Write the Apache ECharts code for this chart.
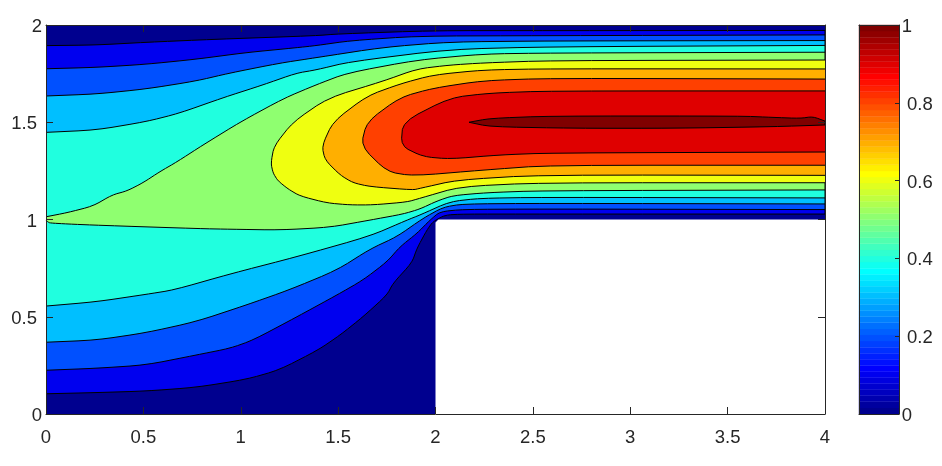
<!DOCTYPE html>
<html>
<head>
<meta charset="utf-8">
<script src="https://cdn.jsdelivr.net/npm/echarts@6/dist/echarts.min.js"></script>
<style>html,body{margin:0;padding:0;background:#fff}#c{width:942px;height:466px}</style>
</head>
<body>
<div id="c"></div>
<script>
// Domain of the field: channel with a backward step cut out
var domain = [[0,0],[2,0],[2,0.985],[2.015,1],[4,1],[4,2],[0,2]];

// Contour rings, [x, y] in data units
var contour01 = [[0,1.894],[0.257,1.897],[0.513,1.911],[0.858,1.926],[1.386,1.945],[1.499,1.954],[1.987,1.971],[2.588,1.971],[4,1.972],
  [4,1.028],[2.537,1.028],[2.141,1.028],[2.049,1.023],[1.987,0.989],[1.956,0.946],[1.905,0.852],[1.879,0.778],[1.782,0.672],[1.751,0.612],[1.628,0.500],[1.510,0.406],[1.397,0.329],[1.196,0.226],[1.027,0.178],[0.770,0.137],[0.513,0.118],[0.257,0.110],[0,0.104]];
var contour02 = [[0,1.775],[0.257,1.782],[0.513,1.798],[0.770,1.824],[1.027,1.858],[1.284,1.883],[1.386,1.894],[1.561,1.919],[1.905,1.943],[2.537,1.945],[4,1.949],
  [4,1.051],[2.537,1.054],[2.141,1.052],[2.023,1.040],[1.972,0.997],[1.905,0.929],[1.818,0.860],[1.751,0.783],[1.628,0.689],[1.494,0.612],[1.289,0.500],[1.063,0.380],[0.945,0.338],[0.770,0.303],[0.513,0.252],[0.257,0.235],[0,0.225]];
var contour03 = [[0,1.635],[0.257,1.645],[0.513,1.671],[0.770,1.712],[0.940,1.752],[1.196,1.803],[1.386,1.832],[1.730,1.885],[2.074,1.913],[2.588,1.918],[4,1.920],
  [4,1.080],[2.537,1.083],[2.141,1.080],[2.039,1.063],[1.936,1.006],[1.802,0.912],[1.664,0.848],[1.494,0.740],[1.248,0.638],[1.027,0.560],[0.770,0.475],[0.513,0.418],[0.257,0.380],[0,0.369]];
var contour04 = [[0,1.448],[0.257,1.460],[0.513,1.503],[0.683,1.546],[0.909,1.626],[1.114,1.692],[1.284,1.752],[1.386,1.769],[1.561,1.811],[2.074,1.875],[2.588,1.888],[4,1.895],
  [4,1.111],[2.537,1.114],[2.228,1.109],[2.074,1.092],[1.920,1.023],[1.854,0.997],[1.664,0.915],[1.289,0.809],[0.945,0.720],[0.657,0.638],[0.513,0.615],[0.257,0.577],[0,0.555]];
var contour05 = [[0,1.014],[0.108,1.035],[0.241,1.069],[0.339,1.126],[0.416,1.147],[0.498,1.189],[0.585,1.246],[0.673,1.297],[0.806,1.383],[1.001,1.503],[1.222,1.623],[1.386,1.692],[1.546,1.753],[1.905,1.820],[2.244,1.851],[2.588,1.856],[4,1.860],
  [4,1.152],[2.537,1.148],[2.264,1.138],[2.090,1.123],[2.008,1.095],[1.920,1.054],[1.833,1.028],[1.664,0.997],[1.458,0.960],[1.202,0.946],[0.945,0.950],[0.791,0.953],[0.277,0.970],[0.108,0.977],[0.021,0.982],[0.010,0.987],[0,0.997]];
var contour06 = [[4,1.820],[2.588,1.817],[2.244,1.805],[2.074,1.794],[1.905,1.774],[1.730,1.711],[1.448,1.625],[1.268,1.501],[1.171,1.378],[1.155,1.290],[1.166,1.239],[1.191,1.199],[1.243,1.157],[1.304,1.121],[1.443,1.085],[1.561,1.075],[1.679,1.075],[1.854,1.090],[1.920,1.109],[2.126,1.169],[2.537,1.189],[4,1.189]];
var contour07 = [[4,1.774],[2.588,1.775],[2.244,1.769],[1.987,1.743],[1.818,1.697],[1.648,1.635],[1.474,1.503],[1.417,1.378],[1.433,1.306],[1.510,1.229],[1.576,1.189],[1.664,1.169],[1.884,1.152],[1.920,1.160],[2.110,1.203],[2.537,1.229],[4,1.227]];
var contour08 = [[4,1.722],[2.588,1.726],[2.244,1.714],[1.987,1.675],[1.818,1.628],[1.648,1.503],[1.617,1.378],[1.751,1.246],[1.884,1.224],[2.244,1.254],[2.588,1.279],[4,1.279]];
var contour09 = [[4,1.661],[2.588,1.661],[2.280,1.650],[2.074,1.626],[1.833,1.503],[1.823,1.378],[1.936,1.323],[2.074,1.311],[2.331,1.332],[2.588,1.342],[4,1.347]];
var contour10 = [[2.172,1.500],[2.280,1.520],[2.588,1.532],[3.564,1.532],[3.733,1.525],[3.872,1.520],[3.938,1.529],[4,1.506],[4,1.486],[3.733,1.477],[3.220,1.469],[2.706,1.469],[2.280,1.477],[2.172,1.500]];

var bandLevels = [0,0.1,0.2,0.3,0.4,0.5,0.6,0.7,0.8,0.9,1];
var bandColors = ['#00008f','#0000ef','#0050ff','#00bfff','#20ffdf','#8fff70','#efff10','#ffaf00','#ff4000','#df0000','#800000'];
var rings = [domain,contour01,contour02,contour03,contour04,contour05,contour06,contour07,contour08,contour09,contour10];

// Colorbar palette (64 steps)
var jet64 = ['#00008f','#00009f','#0000af','#0000bf','#0000cf','#0000df','#0000ef','#0000ff',
 '#0010ff','#0020ff','#0030ff','#0040ff','#0050ff','#0060ff','#0070ff','#0080ff',
 '#008fff','#009fff','#00afff','#00bfff','#00cfff','#00dfff','#00efff','#00ffff',
 '#10ffef','#20ffdf','#30ffcf','#40ffbf','#50ffaf','#60ff9f','#70ff8f','#80ff80',
 '#8fff70','#9fff60','#afff50','#bfff40','#cfff30','#dfff20','#efff10','#ffff00',
 '#ffef00','#ffdf00','#ffcf00','#ffbf00','#ffaf00','#ff9f00','#ff8f00','#ff8000',
 '#ff7000','#ff6000','#ff5000','#ff4000','#ff3000','#ff2000','#ff1000','#ff0000',
 '#ef0000','#df0000','#cf0000','#bf0000','#af0000','#9f0000','#8f0000','#800000'];

var ink = '#262626', fontSize = 18.5, family = '"Liberation Sans", Arial, sans-serif';

// Rounds the corners of a contour where it is drawn; points on the plot's side edges stay put
function soften(ring, q) {
  var out = [];
  ring.forEach(function (p, i) {
    var prev = ring[i - 1], next = ring[i + 1];
    if (!prev || !next || p[0] === 0 || p[0] === 4) { out.push(p); return; }
    out.push([p[0] + (prev[0] - p[0]) * q, p[1] + (prev[1] - p[1]) * q]);
    out.push([p[0] + (next[0] - p[0]) * q, p[1] + (next[1] - p[1]) * q]);
  });
  return out;
}

function axis(gridIndex, position, min, max, interval, opts) {
  opts = opts || {};
  var label = {
    show: !!opts.label, margin: opts.margin, color: ink, fontSize: fontSize, fontFamily: family,
    showMinLabel: true, showMaxLabel: true, hideOverlap: false, alignMinLabel: 'center', alignMaxLabel: 'center',
    formatter: function (v) { return String(+v.toFixed(2)); }
  };
  if (opts.nudge) { label.verticalAlign = 'top'; label.lineHeight = opts.nudge * 2; }
  return {
    type: 'value', gridIndex: gridIndex, position: position, min: min, max: max, interval: interval, z: 5,
    splitLine: {show: false},
    axisLine: {show: true, onZero: false, lineStyle: {color: ink, width: 1}},
    axisTick: {show: opts.tick > 0, inside: true, length: opts.tick || 0, lineStyle: {color: ink, width: 1}},
    axisLabel: label
  };
}

var option = {
  animation: false,
  backgroundColor: '#fff',
  grid: [
    {left: 46, top: 25, width: 779, height: 389},
    {left: 859, top: 25, width: 40, height: 389}
  ],
  xAxis: [
    axis(0, 'bottom', 0, 4, 0.5, {tick: 7, label: true, margin: 14}),
    axis(0, 'top', 0, 4, 0.5, {tick: 7}),
    axis(1, 'bottom', 0, 1, 1),
    axis(1, 'top', 0, 1, 1)
  ],
  yAxis: [
    axis(0, 'left', 0, 2, 0.5, {tick: 7, label: true, margin: 9, nudge: 2}),
    axis(0, 'right', 0, 2, 0.5, {tick: 7}),
    axis(1, 'left', 0, 1, 0.2),
    axis(1, 'right', 0, 1, 0.2, {tick: 4, label: true, margin: 8, nudge: 2})
  ],
  series: [
    {
      type: 'custom', xAxisIndex: 0, yAxisIndex: 0, silent: true,
      data: bandLevels.map(function (l, i) { return [i, l]; }),
      encode: {x: -1, y: -1},
      renderItem: function (params, api) {
        var i = params.dataIndex;
        var ring = i > 0 ? soften(soften(rings[i], 0.2), 0.2) : rings[i];
        var pts = ring.map(function (p) { return api.coord(p); });
        var children = [{type: 'polygon', shape: {points: pts}, style: {fill: bandColors[i], stroke: null}}];
        if (i > 0) children.push({type: 'polyline', shape: {points: pts}, style: {fill: null, stroke: '#000', lineWidth: 1}});
        return {type: 'group', children: children};
      }
    },
    {
      type: 'custom', xAxisIndex: 2, yAxisIndex: 2, silent: true,
      data: jet64.map(function (c, i) { return [i]; }),
      encode: {x: -1, y: -1},
      renderItem: function (params, api) {
        var i = params.dataIndex, n = jet64.length;
        var a = api.coord([0, i / n]), b = api.coord([1, (i + 1) / n]);
        return {type: 'rect', shape: {x: a[0], y: b[1], width: b[0] - a[0], height: a[1] - b[1]},
          style: {fill: jet64[i], stroke: jet64[i], lineWidth: 0.4}};
      }
    }
  ]
};
echarts.init(document.getElementById('c'), null, {renderer: 'canvas'}).setOption(option);
</script>
</body>
</html>
